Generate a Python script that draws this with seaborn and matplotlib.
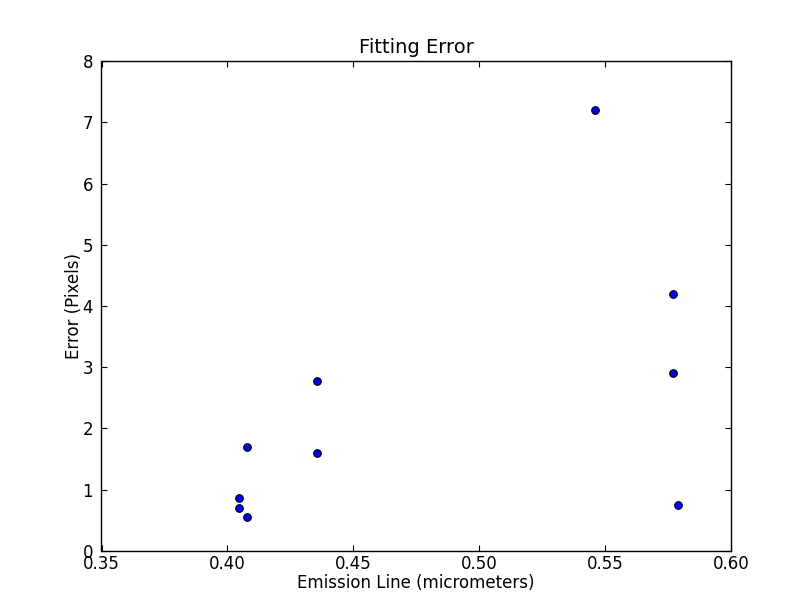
import pandas as pd
import seaborn as sns
import matplotlib.pyplot as plt

# emission lines (micrometers) and fitting error (pixels)
wavelength = [0.5461, 0.5770, 0.5770, 0.5791, 0.4358, 0.4358, 0.4078, 0.4078, 0.4047, 0.4047]
error = [7.21, 4.19, 2.91, 0.75, 2.78, 1.60, 1.70, 0.56, 0.87, 0.70]

df = pd.DataFrame({'wavelength': wavelength, 'error': error})

sns.set_style('ticks')
plt.rcParams['font.family'] = ['DejaVu Sans']
plt.rcParams['xtick.direction'] = 'in'
plt.rcParams['ytick.direction'] = 'in'
plt.rcParams['text.color'] = 'black'
plt.rcParams['axes.labelcolor'] = 'black'
plt.rcParams['xtick.color'] = 'black'
plt.rcParams['ytick.color'] = 'black'

fig = plt.figure(figsize=(8.12, 6.12), dpi=100)
fig.subplots_adjust(left=0.125, right=0.9, top=0.9, bottom=0.1)
ax = fig.add_subplot(111)

sns.scatterplot(data=df, x='wavelength', y='error', ax=ax, color='#0000ff',
                edgecolor='black', linewidth=0.8, s=30, zorder=3)

ax.set_xlim(0.35, 0.60)
ax.set_ylim(0, 8)
ax.set_xticks([0.35, 0.40, 0.45, 0.50, 0.55, 0.60])
ax.set_xticklabels(['0.35', '0.40', '0.45', '0.50', '0.55', '0.60'])
ax.set_yticks(range(9))
ax.tick_params(axis='both', which='both', top=True, right=True, length=4, width=0.8,
               labelsize=12, colors='black')
ax.tick_params(axis='x', pad=3)
ax.tick_params(axis='y', pad=6)
for sp in ax.spines.values():
    sp.set_color('black')
    sp.set_linewidth(1.0)

ax.set_title('Fitting Error', fontsize=14, color='black')
ax.set_xlabel('Emission Line (micrometers)', fontsize=12, labelpad=1)
ax.set_ylabel('Error (Pixels)', fontsize=12, labelpad=0)

fig.savefig('out.png', dpi=100)
